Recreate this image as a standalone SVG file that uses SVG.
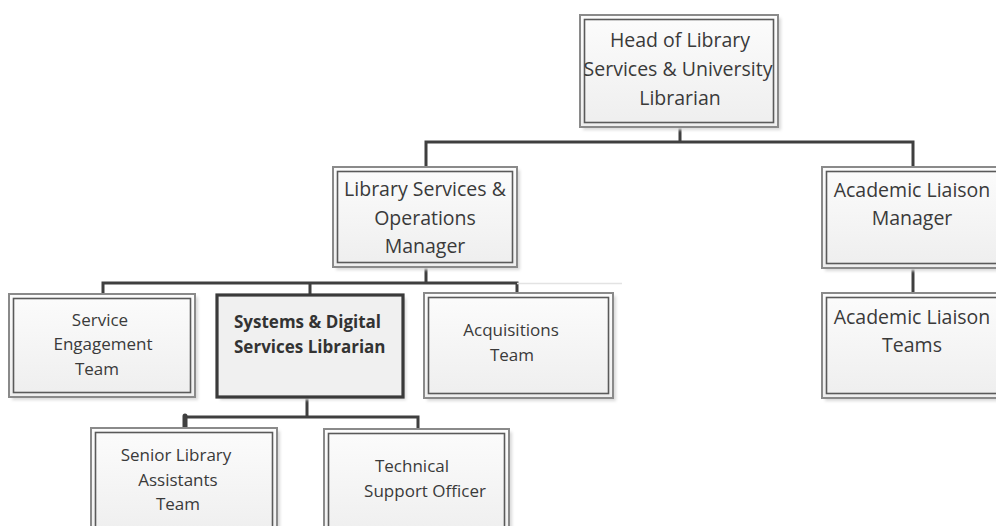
<svg xmlns="http://www.w3.org/2000/svg" width="996" height="526" viewBox="0 0 996 526">
  <style>
    .outer { fill: url(#boxFill); stroke: #8a8a8a; stroke-width: 2; }
    .inner { fill: none; stroke: #5a5a5a; stroke-width: 1.6; }
    .bold-box { fill: #f0f0f0; stroke: #3a3a3a; stroke-width: 3.2; }
    .shadow { fill: #d9d9d9; filter: url(#soft); }
    .lbl { font-family: "Open Sans", "Liberation Sans", sans-serif; fill: #3a3a3a; text-anchor: middle; }
    .big { font-size: 19.5px; }
    .small { font-size: 17px; }
    .strong { font-family: "Open Sans", "Liberation Sans", sans-serif; font-size: 17px; font-weight: bold; fill: #333333; }
    .link { fill: none; stroke: #3f3f3f; stroke-width: 3; }
  </style>
  <defs>
    <linearGradient id="boxFill" x1="0" y1="0" x2="0" y2="1">
      <stop offset="0" stop-color="#fcfcfc"/>
      <stop offset="1" stop-color="#eeeeee"/>
    </linearGradient>
    <filter id="soft" x="-10%" y="-10%" width="120%" height="120%">
      <feGaussianBlur stdDeviation="1.5"/>
    </filter>
  </defs>

  <rect width="996" height="526" fill="#ffffff"/>

  <!-- connectors -->
  <g id="connectors">
    <path class="link" d="M680,126 V142 M426,167 V142 H913 V167"/>
    <path class="link" d="M913,268 V294"/>
    <path class="link" d="M426,266 V283 M103,294 V283 H517 V294 M310,283 V295"/>
    <line x1="517" y1="283.5" x2="622" y2="283.5" stroke="#e3e3e3" stroke-width="1.5"/>
    <path class="link" d="M307,398 V417 M185,428 V417 H418 V429"/>
    <line x1="185" y1="416" x2="185" y2="428" stroke="#3f3f3f" stroke-width="5" stroke-linecap="round"/>
  </g>

  <!-- Head of Library Services -->
  <g id="head">
    <rect class="shadow" x="583" y="18" width="198" height="112"/>
    <rect class="outer" x="580" y="15" width="198" height="112"/>
    <rect class="inner" x="584.5" y="19.5" width="189" height="103"/>
    <text class="lbl big" x="680" y="47">Head of Library</text>
    <text class="lbl big" x="678" y="76">Services &amp; University</text>
    <text class="lbl big" x="680" y="105">Librarian</text>
  </g>

  <!-- Library Services & Operations Manager -->
  <g id="ops-manager">
    <rect class="shadow" x="336" y="170" width="184" height="100"/>
    <rect class="outer" x="333" y="167" width="184" height="100"/>
    <rect class="inner" x="337.5" y="171.5" width="175" height="91"/>
    <text class="lbl big" x="425" y="196">Library Services &amp;</text>
    <text class="lbl big" x="425" y="225">Operations</text>
    <text class="lbl big" x="425" y="253">Manager</text>
  </g>

  <!-- Academic Liaison Manager -->
  <g id="liaison-manager">
    <rect class="shadow" x="825" y="170" width="180" height="101"/>
    <rect class="outer" x="822" y="167" width="180" height="101"/>
    <rect class="inner" x="826.5" y="171.5" width="180" height="92"/>
    <text class="lbl big" x="912" y="197">Academic Liaison</text>
    <text class="lbl big" x="912" y="225">Manager</text>
  </g>

  <!-- Academic Liaison Teams -->
  <g id="liaison-teams">
    <rect class="shadow" x="825" y="296" width="180" height="105"/>
    <rect class="outer" x="822" y="293" width="180" height="105"/>
    <rect class="inner" x="826.5" y="297.5" width="180" height="96"/>
    <text class="lbl big" x="912" y="324">Academic Liaison</text>
    <text class="lbl big" x="912" y="352">Teams</text>
  </g>

  <!-- Service Engagement Team -->
  <g id="service-engagement">
    <rect class="shadow" x="12" y="297" width="186" height="103"/>
    <rect class="outer" x="9" y="294" width="186" height="103"/>
    <rect class="inner" x="13.5" y="298.5" width="177" height="94"/>
    <text class="lbl small" x="100" y="326">Service</text>
    <text class="lbl small" x="103" y="350">Engagement</text>
    <text class="lbl small" x="97" y="375">Team</text>
  </g>

  <!-- Systems & Digital Services Librarian -->
  <g id="systems-digital">
    <rect class="shadow" x="220" y="298" width="186" height="102"/>
    <rect class="bold-box" x="217" y="295" width="186" height="102"/>
    <text class="strong" x="234" y="328">Systems &amp; Digital</text>
    <text class="strong" x="234" y="353">Services Librarian</text>
  </g>

  <!-- Acquisitions Team -->
  <g id="acquisitions">
    <rect class="shadow" x="427" y="296" width="189" height="105"/>
    <rect class="outer" x="424" y="293" width="189" height="105"/>
    <rect class="inner" x="428.5" y="297.5" width="180" height="96"/>
    <text class="lbl small" x="511" y="336">Acquisitions</text>
    <text class="lbl small" x="512" y="361">Team</text>
  </g>

  <!-- Senior Library Assistants Team -->
  <g id="senior-assistants">
    <rect class="shadow" x="94" y="431" width="186" height="110"/>
    <rect class="outer" x="91" y="428" width="186" height="110"/>
    <rect class="inner" x="95.5" y="432.5" width="177" height="101"/>
    <text class="lbl small" x="176" y="461">Senior Library</text>
    <text class="lbl small" x="178" y="486">Assistants</text>
    <text class="lbl small" x="178" y="510">Team</text>
  </g>

  <!-- Technical Support Officer -->
  <g id="technical-support">
    <rect class="shadow" x="327" y="432" width="185" height="110"/>
    <rect class="outer" x="324" y="429" width="185" height="110"/>
    <rect class="inner" x="328.5" y="433.5" width="176" height="101"/>
    <text class="lbl small" x="412" y="472">Technical</text>
    <text class="lbl small" x="425" y="497">Support Officer</text>
  </g>
</svg>
